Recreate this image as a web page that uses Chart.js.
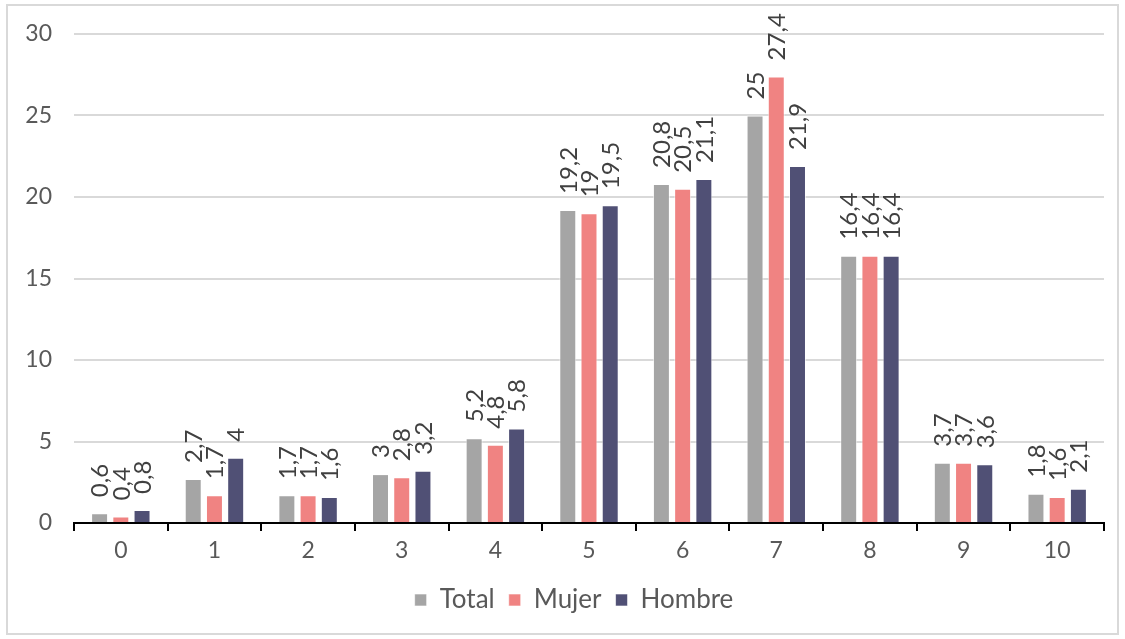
<!DOCTYPE html>
<html>
<head>
<meta charset="utf-8">
<script src="https://cdn.jsdelivr.net/npm/chart.js@4/dist/chart.umd.min.js"></script>
<style>
    html, body { margin: 0; padding: 0; background: #fff; }
    #box {
        position: absolute; left: 6px; top: 4px;
        width: 1109px; height: 627px;
        border: 2px solid #d9d9d9;
    }
    #wrap { position: absolute; left: 0; top: 0; width: 1109px; height: 627px; }
</style>
</head>
<body>
<div id="box"><div id="wrap"><canvas id="myChart"></canvas></div></div>
<script>
const categorias = ['0', '1', '2', '3', '4', '5', '6', '7', '8', '9', '10'];
const total = [0.6, 2.7, 1.7, 3, 5.2, 19.2, 20.8, 25, 16.4, 3.7, 1.8];
const mujer = [0.4, 1.7, 1.7, 2.8, 4.8, 19, 20.5, 27.4, 16.4, 3.7, 1.6];
const hombre = [0.8, 4, 1.6, 3.2, 5.8, 19.5, 21.1, 21.9, 16.4, 3.6, 2.1];
const yTicks = [0, 5, 10, 15, 20, 25, 30];

const fontFam = 'Lato, "Noto Sans", sans-serif';
const textColor = '#595959';

// etiquetas giradas encima de cada barra
const etiquetas = {
    id: 'etiquetas',
    afterDatasetsDraw(chart) {
        const ctx = chart.ctx;
        chart.data.datasets.forEach((ds, i) => {
            const meta = chart.getDatasetMeta(i);
            meta.data.forEach((bar, j) => {
                const txt = String(ds.data[j]).replace('.', ',');
                ctx.save();
                ctx.translate(bar.x, bar.y - 16);
                ctx.rotate(-Math.PI / 2);
                ctx.font = '24px ' + fontFam;
                ctx.fillStyle = '#404040';
                ctx.textAlign = 'left';
                ctx.textBaseline = 'middle';
                ctx.fillText(txt, 0, 1);
                ctx.restore();
            });
        });
    }
};

// la leyenda del original esta algo corrida a la derecha
const moverLeyenda = {
    id: 'moverLeyenda',
    afterLayout(chart) {
        chart.legend.left += 18;
        chart.legend.right += 18;
    }
};

const ctx = document.getElementById('myChart').getContext('2d');
const myChart = new Chart(ctx, {
    type: 'bar',
    data: {
        labels: categorias,
        datasets: [
            { label: 'Total', data: total, backgroundColor: '#a5a5a5' },
            { label: 'Mujer', data: mujer, backgroundColor: '#f08382' },
            { label: 'Hombre', data: hombre, backgroundColor: '#505075' }
        ]
    },
    options: {
        responsive: true,
        maintainAspectRatio: false,
        animation: false,
        datasets: {
            bar: {
                categoryPercentage: 0.68,
                barPercentage: 0.8,
                borderWidth: 1,
                borderColor: 'rgba(255,255,255,0.6)'
            }
        },
        layout: { padding: { top: 28, right: 13, left: 0, bottom: 10 } },
        plugins: {
            legend: {
                position: 'bottom',
                labels: {
                    boxWidth: 12,
                    boxHeight: 12,
                    color: textColor,
                    font: { family: fontFam, size: 26 },
                    padding: 14
                }
            },
            tooltip: { enabled: false }
        },
        scales: {
            x: {
                grid: {
                    offset: true,
                    drawOnChartArea: false,
                    color: '#000',
                    tickLength: 8,
                    lineWidth: 2
                },
                border: { color: '#000', width: 2 },
                ticks: {
                    color: textColor,
                    font: { family: fontFam, size: 23 },
                    padding: 6
                },
                afterFit: (scale) => { scale.height = 50; }
            },
            y: {
                min: 0,
                max: 30,
                afterBuildTicks: (scale) => { scale.ticks = yTicks.map(v => ({ value: v })); },
                grid: { color: '#d9d9d9', lineWidth: 2, drawTicks: false },
                border: { display: false },
                ticks: {
                    color: textColor,
                    font: { family: fontFam, size: 23 },
                    padding: 22
                },
                afterFit: (scale) => {
                    scale.width = 66;
                    scale.paddingTop = 0;
                    scale.paddingBottom = 0;
                }
            }
        }
    },
    plugins: [etiquetas, moverLeyenda]
});
</script>
</body>
</html>
